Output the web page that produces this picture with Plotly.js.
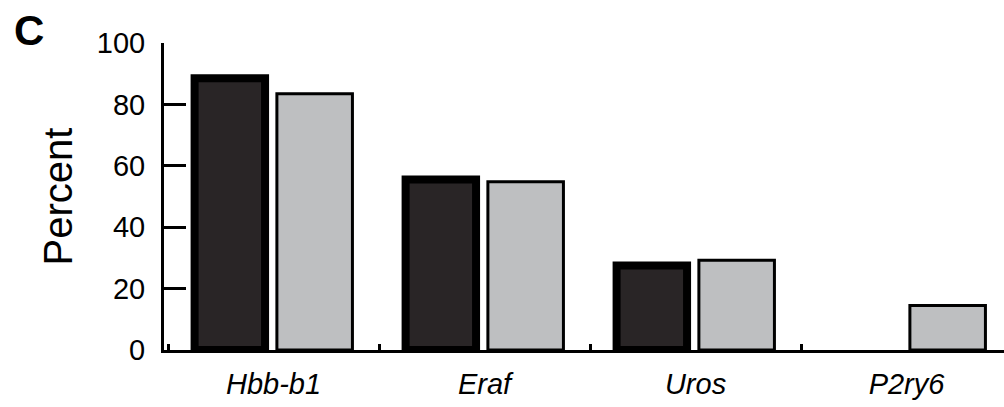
<!DOCTYPE html>
<html>
<head>
<meta charset="utf-8">
<script src="https://cdn.plot.ly/plotly-3.0.1.min.js"></script>
<style>html,body{margin:0;padding:0;background:#fff;}#chart{width:1004px;height:407px;}</style>
</head>
<body>
<div id="chart"></div>
<script>
var genes = ["Hbb-b1", "Eraf", "Uros", "P2ry6"];
var seriesDark = [88.5, 55.5, 27.5, 0];
var seriesLight = [83.5, 54.8, 29.2, 14.5];
var yTicks = [0, 20, 40, 60, 80, 100];

var FONT = "Liberation Sans, Arial, Helvetica, sans-serif";

var traces = [
  {
    type: "bar", x: genes, y: seriesDark, name: "dark",
    offset: -0.374, width: 0.334,
    marker: {color: "#292526", line: {color: "#000000", width: seriesDark.map(function(v){return v > 0 ? 8 : 0;})}},
    hoverinfo: "none"
  },
  {
    type: "bar", x: genes, y: seriesLight, name: "light",
    offset: 0.016, width: 0.358,
    marker: {color: "#bebfc1", line: {color: "#000000", width: 3}},
    hoverinfo: "none"
  }
];

var layout = {
  width: 1004, height: 407,
  margin: {l: 164, r: 0, t: 43, b: 57, pad: 0},
  paper_bgcolor: "#ffffff", plot_bgcolor: "#ffffff",
  showlegend: false,
  barmode: "overlay",
  font: {family: FONT, color: "#000000"},
  xaxis: {
    type: "category",
    range: [-0.519, 3.462],
    showline: true, linecolor: "#000000", linewidth: 3,
    ticks: "inside", tickson: "boundaries", ticklen: 6, tickwidth: 3, tickcolor: "#000000",
    tickfont: {family: FONT, size: 29, style: "italic", color: "#000000"},
    ticklabelstandoff: 6,
    showgrid: false, zeroline: false, fixedrange: true
  },
  yaxis: {
    range: [0, 100],
    tickvals: yTicks, ticktext: yTicks.map(String),
    showline: true, linecolor: "#000000", linewidth: 3,
    ticks: "inside", ticklen: 22, tickwidth: 3, tickcolor: "#000000",
    tickfont: {family: FONT, size: 29, color: "#000000"},
    ticklabelstandoff: 10,
    showgrid: false, zeroline: false, fixedrange: true,
    title: {text: "Percent", font: {family: FONT, size: 40, color: "#000000"}, standoff: 12}
  },
  annotations: [
    {text: "<b>C</b>", xref: "paper", yref: "paper", x: -0.181, y: 1.124,
     xanchor: "left", yanchor: "top", showarrow: false,
     font: {family: FONT, size: 42, color: "#000000"}}
  ]
};

Plotly.newPlot("chart", traces, layout, {staticPlot: true, displayModeBar: false});
</script>
</body>
</html>
